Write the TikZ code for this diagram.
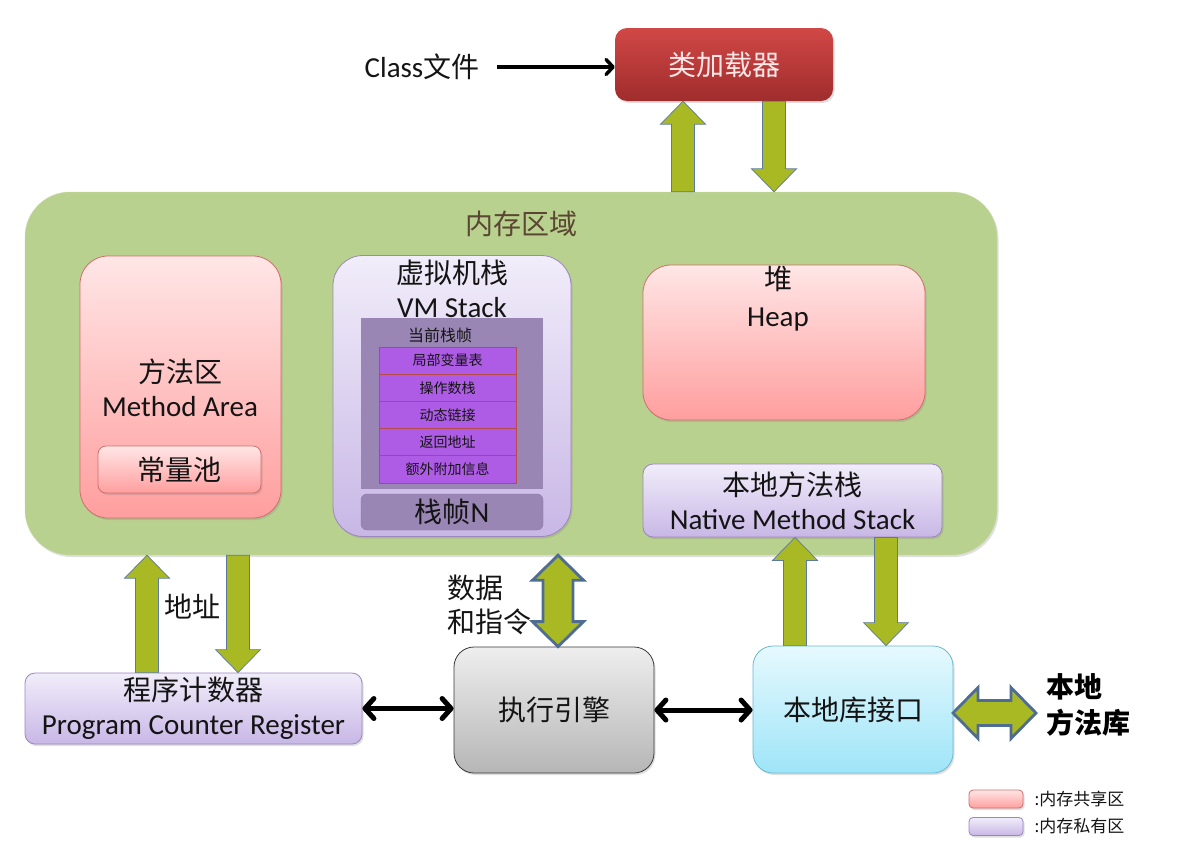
\documentclass[tikz,border=0pt]{standalone}
\usepackage{fontspec}
\setmainfont{Carlito}
\newfontfamily\cjk{Noto Sans CJK SC}
\usetikzlibrary{calc,arrows.meta,shadows}
\definecolor{memgreen}{HTML}{B9D18E}
\definecolor{memedge}{HTML}{C9DAA9}
\definecolor{memtext}{HTML}{5A4632}
\definecolor{pinktop}{HTML}{FFE6E6}
\definecolor{pinkbot}{HTML}{FF9E9E}
\definecolor{pinkedge}{HTML}{CF6F6D}
\definecolor{lavtop}{HTML}{F1EDFA}
\definecolor{lavbot}{HTML}{C8B7E6}
\definecolor{lavedge}{HTML}{9C86BE}
\definecolor{graytop}{HTML}{EEEEEE}
\definecolor{graybot}{HTML}{B6B6B6}
\definecolor{grayedge}{HTML}{3A3A3A}
\definecolor{cyantop}{HTML}{E6F9FE}
\definecolor{cyanbot}{HTML}{9EE5F8}
\definecolor{cyanedge}{HTML}{6CB8D0}
\definecolor{loadtop}{HTML}{D04846}
\definecolor{loadbot}{HTML}{A02C2C}
\definecolor{loadtext}{HTML}{FFE6E6}
\definecolor{framefill}{HTML}{9A86B4}
\definecolor{frameedge}{HTML}{8A76AA}
\definecolor{rowfill}{HTML}{AE5CE6}
\definecolor{rowedge}{HTML}{B94A4A}
\definecolor{olivefill}{HTML}{A8B923}
\definecolor{arredge}{HTML}{5C7A9C}
\definecolor{darredge}{HTML}{4F6D93}
\definecolor{txt}{HTML}{141414}
\newcommand\szm{\fontsize{28}{34}\selectfont}
\newcommand\szl{\fontsize{29}{34}\selectfont}
\newcommand\sarrow[2]{%
  \filldraw[sarr] ($(#1)!11.5pt!90:(#2)$) -- ($($(#2)!23pt!(#1)$)!11.5pt!90:(#2)$) -- ($($(#2)!23pt!(#1)$)!22.5pt!90:(#2)$) -- (#2) -- ($($(#2)!23pt!(#1)$)!22.5pt!-90:(#2)$) -- ($($(#2)!23pt!(#1)$)!11.5pt!-90:(#2)$) -- ($(#1)!11.5pt!-90:(#2)$) -- cycle;}
\newcommand\darrow[5]{%
  \filldraw[darr] (#1) -- ($($(#1)!#5!(#2)$)!#4!90:(#2)$) -- ($($(#1)!#5!(#2)$)!#3!90:(#2)$) -- ($($(#2)!#5!(#1)$)!#3!90:(#2)$) -- ($($(#2)!#5!(#1)$)!#4!90:(#2)$) -- (#2) -- ($($(#2)!#5!(#1)$)!#4!-90:(#2)$) -- ($($(#2)!#5!(#1)$)!#3!-90:(#2)$) -- ($($(#1)!#5!(#2)$)!#3!-90:(#2)$) -- ($($(#1)!#5!(#2)$)!#4!-90:(#2)$) -- cycle;}
\begin{document}
\begin{tikzpicture}[x=1pt,y=-1pt,
  shsh/.style={drop shadow={shadow xshift=1.5pt,shadow yshift=-2pt,opacity=0.25}},
  pinkbox/.style={draw=pinkedge,line width=0.8pt,top color=pinktop,bottom color=pinkbot,inner sep=0pt,align=center,shsh},
  lavbox/.style={draw=lavedge,line width=0.8pt,top color=lavtop,bottom color=lavbot,inner sep=0pt,align=center,shsh},
  rowbox/.style={draw=rowedge,line width=0.7pt,fill=rowfill,minimum width=137pt,minimum height=27.2pt,inner sep=0pt,font=\cjk\fontsize{14}{16}\selectfont,text=txt},
  sarr/.style={fill=olivefill,draw=arredge,line width=0.7pt},
  darr/.style={fill=olivefill,draw=darredge,line width=2.8pt,line join=miter},
  blk/.style={draw=black,line width=5pt,line cap=round,{Straight Barb[length=9pt,width=20pt,line cap=round,line join=round]}-{Straight Barb[length=9pt,width=20pt,line cap=round,line join=round]}},
  lbl/.style={font=\szl,text=txt,align=center}]
\useasboundingbox (0,0) rectangle (1177,857);
\fill[white] (0,0) rectangle (1177,857);

% memory area
\node[draw=memedge,fill=memgreen,rounded corners=45pt,minimum width=972pt,minimum height=363pt,inner sep=0pt,shsh] (mem) at (511,373.5) {};
\node[font=\cjk\szm,text=memtext] (memlbl) at (521,224) {内存区域};

% class loader
\node[top color=loadtop,bottom color=loadbot,rounded corners=12pt,minimum width=218pt,minimum height=73pt,inner sep=0pt,text=loadtext,font=\cjk\szm,shsh] (loader) at (724,64.5) {类加载器};
\node[lbl] (cls) at (422,67) {Class{\cjk\szm 文件}};
\draw[draw=black,line width=3.5pt,-{Straight Barb[length=7pt,width=15pt,line cap=round,line join=round]},shorten <=14pt] (cls.east) -- (cls.east -| loader.west);

% method area
\node[pinkbox,rounded corners=28pt,minimum width=201pt,minimum height=262pt] (ma) at (180.5,387) {};
\node[lbl] (malbl) at (180,388) {{\cjk\szm 方法区}\\Method Area};
\node[pinkbox,rounded corners=8pt,minimum width=163pt,minimum height=47pt,font=\cjk\szm,text=txt] (cp) at (179.5,469.5) {常量池};

% VM stack
\node[lavbox,rounded corners=30pt,minimum width=238pt,minimum height=281pt] (vms) at (452,396) {};
\node[lbl] (vmslbl) at (452,288.5) {{\cjk\szm 虚拟机栈}\\VM Stack};
\node[fill=framefill,minimum width=182pt,minimum height=171pt,inner sep=0pt] (frame) at (452,403.5) {};
\node[font=\cjk\fontsize{16}{18}\selectfont,text=txt] (framelbl) at (440,335) {当前栈帧};
\node[rowbox] (r1) at (447.5,360.6) {局部变量表};
\node[rowbox] (r2) at (447.5,387.8) {操作数栈};
\node[rowbox] (r3) at (447.5,415.0) {动态链接};
\node[rowbox] (r4) at (447.5,442.2) {返回地址};
\node[rowbox] (r5) at (447.5,469.4) {额外附加信息};
\node[draw=frameedge,fill=framefill,rounded corners=6pt,minimum width=182pt,minimum height=36pt,inner sep=0pt,font=\szl,text=txt] (fn) at (452,512) {{\cjk\szm 栈帧}N};

% heap
\node[pinkbox,rounded corners=28pt,minimum width=282pt,minimum height=155pt] (heap) at (784,342.5) {};
\node[lbl,font=\fontsize{29}{37}\selectfont] (heaplbl) at (778,298.5) {{\cjk\fontsize{28}{37}\selectfont 堆}\\Heap};

% native method stack
\node[lavbox,rounded corners=10pt,minimum width=299pt,minimum height=73pt,font=\szl,text=txt] (nms) at (792.5,500.5) {{\cjk\szm 本地方法栈}\\Native Method Stack};

% bottom row
\node[lavbox,rounded corners=10pt,minimum width=337pt,minimum height=71pt,font=\szl,text=txt] (pc) at (193.5,708.5) {{\cjk\szm 程序计数器}\\Program Counter Register};
\node[draw=grayedge,line width=0.8pt,top color=graytop,bottom color=graybot,rounded corners=20pt,minimum width=200pt,minimum height=126pt,inner sep=0pt,font=\cjk\szm,text=txt,shsh] (exec) at (554,710) {执行引擎};
\node[draw=cyanedge,line width=0.8pt,top color=cyantop,bottom color=cyanbot,rounded corners=20pt,minimum width=200pt,minimum height=127pt,inner sep=0pt,font=\cjk\szm,text=txt,shsh] (nlib) at (853,709.5) {本地库接口};
\node[anchor=west,align=left,font=\cjk\bfseries\fontsize{28}{36}\selectfont,text=black] (nlibtxt) at (1043,705) {本地\\方法库};

% labels
\node[font=\cjk\szm,text=txt] (addr) at (192,607) {地址};
\node[anchor=west,align=left,font=\cjk\szm,text=txt] (data) at (444,605) {数据\\和指令};

% block arrows
\coordinate (lu1) at (mem.north -| 683,0);
\coordinate (lu2) at (loader.south -| 683,0);
\coordinate (ld1) at (loader.south -| 774,0);
\coordinate (ld2) at (mem.north -| 774,0);
\coordinate (pu1) at (pc.north -| 147,0);
\coordinate (pu2) at (mem.south -| 147,0);
\coordinate (pd1) at (mem.south -| 238,0);
\coordinate (pd2) at (pc.north -| 238,0);
\coordinate (nu1) at (nlib.north -| 795,0);
\coordinate (nu2) at (nms.south -| 795,0);
\coordinate (nd1) at (nms.south -| 886,0);
\coordinate (nd2) at (nlib.north -| 886,0);
\coordinate (dv1) at (mem.south -| 558,0);
\coordinate (dv2) at (exec.north -| 558,0);
\coordinate (dh1) at (953,713);
\coordinate (dh2) at (1036,713);
\sarrow{lu1}{lu2}
\sarrow{ld1}{ld2}
\sarrow{pu1}{pu2}
\sarrow{pd1}{pd2}
\sarrow{nu1}{nu2}
\sarrow{nd1}{nd2}
\darrow{dv1}{dv2}{15pt}{25.5pt}{25pt}
\darrow{dh1}{dh2}{12.5pt}{25.5pt}{25pt}

% black double arrows
\draw[blk] (pc.east) -- (pc.east -| exec.west);
\draw[blk] (exec.east) -- (exec.east -| nlib.west);

% legend
\node[pinkbox,rounded corners=4pt,minimum width=54pt,minimum height=18pt] (lg1) at (996,799) {};
\node[lavbox,rounded corners=4pt,minimum width=54pt,minimum height=18pt] (lg2) at (996,826.5) {};
\node[anchor=west,font=\cjk\fontsize{17}{20}\selectfont,text=txt] (lg1t) at (1031,799) {:内存共享区};
\node[anchor=west,font=\cjk\fontsize{17}{20}\selectfont,text=txt] (lg2t) at (1031,826.5) {:内存私有区};
\end{tikzpicture}
\end{document}
